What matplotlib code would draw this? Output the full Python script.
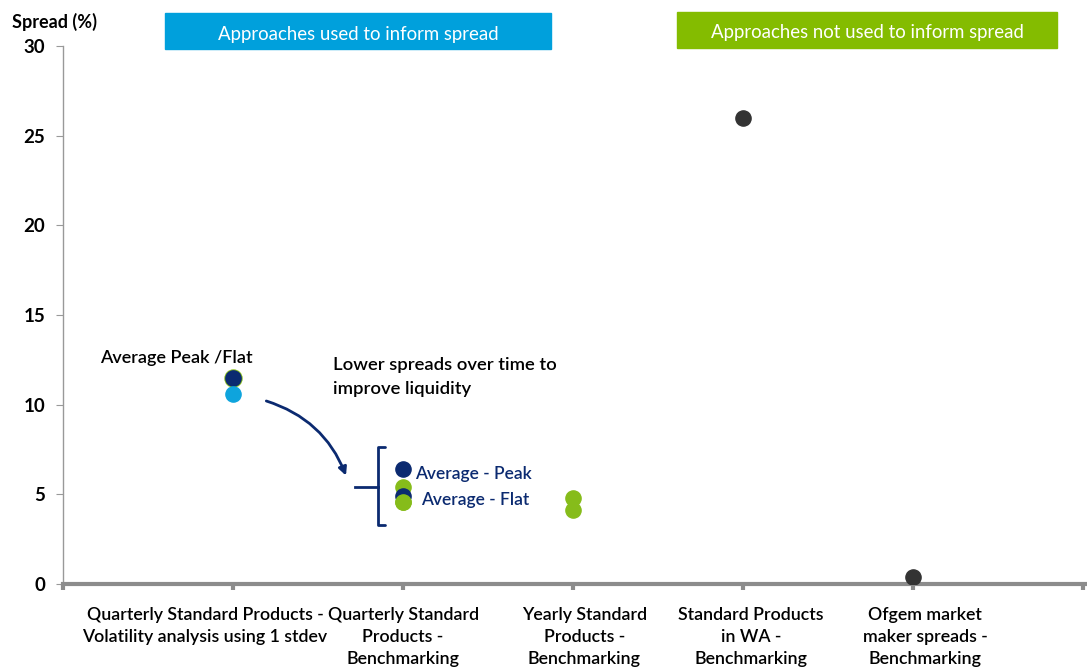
import matplotlib.pyplot as plt
from matplotlib.patches import Rectangle, FancyArrowPatch

plt.rcParams['font.family'] = ['Lato', 'DejaVu Sans']

categories = ["Quarterly Standard Products -\nVolatility analysis using 1 stdev",
              "Quarterly Standard\nProducts -\nBenchmarking",
              "Yearly Standard\nProducts -\nBenchmarking",
              "Standard Products\nin WA -\nBenchmarking",
              "Ofgem market\nmaker spreads -\nBenchmarking"]

# (category index, spread %) per colour group
green_x = [1, 2, 2, 3, 3]
green_y = [11.5, 5.4, 4.55, 4.8, 4.1]
navy_x = [1, 2, 2]
navy_y = [11.5, 6.4, 4.9]
light_x = [1]
light_y = [10.6]
grey_x = [4, 5]
grey_y = [26.0, 0.4]

NAVY = "#0b2a70"
GREEN = "#86bc1a"
LIGHT = "#0ea4dd"
GREY = "#333333"

fig = plt.figure(figsize=(10.87, 6.71), dpi=100)
ax = fig.add_axes([0.058, 0.1297, 0.94, 0.8017])

ax.scatter(green_x[:1], green_y[:1], s=150, color=GREEN, zorder=3)
ax.scatter(green_x[1:], green_y[1:], s=120, color=GREEN, zorder=3)
ax.scatter(navy_x, navy_y, s=120, color=NAVY, zorder=4)
ax.scatter(green_x[2:3], green_y[2:3], s=120, color=GREEN, zorder=5)
ax.scatter(light_x, light_y, s=120, color=LIGHT, zorder=4)
ax.scatter(grey_x, grey_y, s=120, color=GREY, zorder=4)

ax.set_xlim(0, 6.01)
ax.set_ylim(0, 30)
ax.set_yticks(range(0, 31, 5))
ax.set_yticklabels([str(v) for v in range(0, 31, 5)], fontsize=13.5, fontweight='bold')
ax.set_xticks(range(0, 7))
ax.set_xticklabels([])
for s in ['top', 'right']:
    ax.spines[s].set_visible(False)
ax.spines['left'].set_color('#999999')
ax.spines['left'].set_linewidth(1)
ax.spines['bottom'].set_color('#8c8c8c')
ax.spines['bottom'].set_linewidth(3)
ax.tick_params(axis='y', colors='#999999', labelcolor='black', length=5, pad=8)
ax.tick_params(axis='x', colors='#8c8c8c', length=4, width=3)

offsets = [-0.165, 0.0, 0.065, 0.045, 0.07]
for i, (lab, off) in enumerate(zip(categories, offsets)):
    ax.text(i + 1 + off, -1.3, lab, ha='center', va='top', fontsize=12.8,
            fontweight='semibold', linespacing=1.45)

fig.text(0.011, 0.967, "Spread (%)", fontsize=13, fontweight='bold', va='center')

# header boxes
fig.add_artist(Rectangle((0.1518, 0.927), 0.3551, 0.0537, transform=fig.transFigure,
                         color="#00a0dc"))
fig.text(0.1518 + 0.3551 / 2, 0.949, "Approaches used to inform spread",
         color='white', fontsize=13.4, ha='center', va='center')
fig.add_artist(Rectangle((0.6228, 0.9285), 0.3496, 0.0537, transform=fig.transFigure,
                         color="#84bc00"))
fig.text(0.6228 + 0.3496 / 2, 0.951, "Approaches not used to inform spread",
         color='white', fontsize=13.4, ha='center', va='center')

# annotations
ax.text(0.665, 12.6, "Average Peak /Flat", ha='center', va='center', fontsize=13,
        fontweight='semibold')
ax.text(1.588, 11.55, "Lower spreads over time to\nimprove liquidity", ha='left',
        va='center', fontsize=13.3, fontweight='semibold', linespacing=1.6)
ax.text(2.07, 6.13, "Average - Peak", ha='left', va='center', fontsize=12.5,
        fontweight='semibold', color=NAVY)
ax.text(2.106, 4.68, "Average - Flat", ha='left', va='center', fontsize=12.5,
        fontweight='semibold', color=NAVY)

arrow = FancyArrowPatch((1.18, 10.25), (1.67, 5.9), connectionstyle="arc3,rad=-0.25",
                        arrowstyle='-|>', mutation_scale=12, color=NAVY, lw=2)
ax.add_patch(arrow)

# bracket
ax.plot([1.894, 1.853, 1.853, 1.894], [7.64, 7.64, 3.29, 3.29], color=NAVY, lw=2,
        solid_capstyle='round', clip_on=False)
ax.plot([1.718, 1.853], [5.41, 5.41], color=NAVY, lw=2)

fig.savefig("out.png", dpi=100)
